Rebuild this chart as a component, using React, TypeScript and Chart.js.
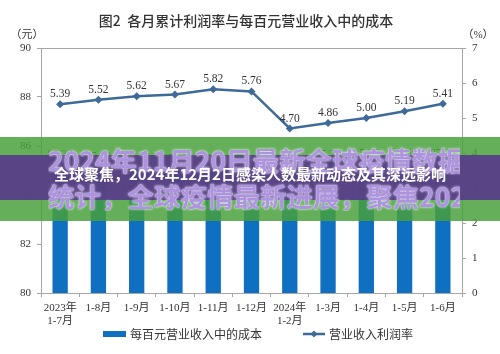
import React, { useEffect, useRef } from "react";
import { Chart, registerables } from "chart.js";

Chart.register(...registerables);

const categories: string[][] = [
  ["2023年", "1-7月"], ["1-8月"], ["1-9月"], ["1-10月"], ["1-11月"], ["1-12月"],
  ["2024年", "1-2月"], ["1-3月"], ["1-4月"], ["1-5月"], ["1-6月"],
];
const costPerHundred: number[] = [85.32, 85.23, 85.17, 85.15, 85.13, 84.76, 85.11, 85.32, 85.35, 85.40, 85.35];
const profitRate: number[] = [5.39, 5.52, 5.62, 5.67, 5.82, 5.76, 4.70, 4.86, 5.00, 5.19, 5.41];
const leftTicks = { min: 80, max: 90, step: 2 };
const rightTicks = { min: 0, max: 7, step: 1 };
const titleText = "图2  各月累计利润率与每百元营业收入中的成本";
const leftUnit = "（元）";
const rightUnit = "（%）";
const legendLabels = ["每百元营业收入中的成本", "营业收入利润率"];
const bannerBig = ["2024年11月20日最新全球疫情数据", "统计，全球疫情最新进展，聚焦2024"];
const bannerSmall = "全球聚焦，2024年12月2日感染人数最新动态及其深远影响";

const BAR = "#0f6fc0";
const LINE = "#3e6a99";
const TXT = "#333333";
const SERIF = '"Liberation Serif", "Noto Sans CJK SC", serif';
const CJK = '"Noto Sans CJK SC", sans-serif';

const decor = {
  id: "decor",
  afterDatasetsDraw(chart: any) {
    const { ctx, chartArea } = chart;
    ctx.save();
    ctx.strokeStyle = "#a6a6a6";
    ctx.lineWidth = 1;
    ctx.strokeRect(chartArea.left + 0.5, chartArea.top + 0.5, chartArea.right - chartArea.left, chartArea.bottom - chartArea.top);
    ctx.fillStyle = TXT;
    ctx.font = `500 14px ${CJK}`;
    ctx.textAlign = "center";
    ctx.textBaseline = "middle";
    ctx.fillText(titleText, 246, 21);
    ctx.font = `11px ${SERIF}`;
    ctx.fillText(leftUnit, 27, 35);
    ctx.fillText(rightUnit, 478, 35);
    const lineMeta = chart.getDatasetMeta(1);
    ctx.font = `11.5px ${SERIF}`;
    ctx.fillStyle = TXT;
    ctx.textBaseline = "alphabetic";
    lineMeta.data.forEach((pt: any, i: number) => {
      ctx.fillText(profitRate[i].toFixed(2), pt.x, pt.y - 7);
    });
    const barMeta = chart.getDatasetMeta(0);
    barMeta.data.forEach((b: any, i: number) => {
      ctx.fillText(costPerHundred[i].toFixed(2), b.x, b.y - 5);
    });
    const ly = 334;
    ctx.fillStyle = BAR;
    ctx.fillRect(103, ly - 3, 23, 6);
    ctx.fillStyle = TXT;
    ctx.font = `12px ${CJK}`;
    ctx.textAlign = "left";
    ctx.textBaseline = "middle";
    ctx.fillText(legendLabels[0], 130, ly);
    ctx.strokeStyle = LINE;
    ctx.lineWidth = 2.5;
    ctx.beginPath();
    ctx.moveTo(303, ly);
    ctx.lineTo(325, ly);
    ctx.stroke();
    ctx.fillStyle = LINE;
    ctx.beginPath();
    ctx.moveTo(314, ly - 3.5);
    ctx.lineTo(317.5, ly);
    ctx.lineTo(314, ly + 3.5);
    ctx.lineTo(310.5, ly);
    ctx.closePath();
    ctx.fill();
    ctx.fillStyle = TXT;
    ctx.fillText(legendLabels[1], 329, ly);
    ctx.restore();
  },
};

export default function App() {
  const ref = useRef<HTMLCanvasElement>(null);
  useEffect(() => {
    if (!ref.current) return;
    const chart = new Chart(ref.current, {
      type: "bar",
      data: {
        labels: categories,
        datasets: [
          {
            type: "bar",
            label: legendLabels[0],
            data: costPerHundred,
            backgroundColor: BAR,
            yAxisID: "y",
            categoryPercentage: 1,
            barPercentage: 0.4,
            order: 2,
          },
          {
            type: "line",
            label: legendLabels[1],
            data: profitRate,
            borderColor: LINE,
            backgroundColor: LINE,
            borderWidth: 2.5,
            pointStyle: "rectRot",
            pointRadius: 4,
            pointBorderWidth: 0,
            yAxisID: "y1",
            order: 1,
          } as any,
        ],
      },
      options: {
        responsive: false,
        animation: false,
        layout: { padding: { top: 48, left: 0, right: 0, bottom: 0 } },
        plugins: { legend: { display: false }, tooltip: { enabled: false }, title: { display: false } },
        scales: {
          x: {
            offset: true,
            grid: { offset: true, drawOnChartArea: false, tickLength: 4, color: "#a6a6a6" },
            border: { color: "#a6a6a6" },
            ticks: { color: TXT, font: { family: SERIF, size: 11, lineHeight: 1.15 }, padding: 5, maxRotation: 0, autoSkip: false },
            afterFit: (s: any) => { s.height = 61; },
          },
          y: {
            position: "left",
            min: leftTicks.min,
            max: leftTicks.max,
            ticks: { stepSize: leftTicks.step, color: TXT, font: { family: SERIF, size: 11 }, padding: 6 },
            grid: { drawOnChartArea: false, tickLength: 4, color: "#a6a6a6" },
            border: { color: "#a6a6a6" },
            afterFit: (s: any) => { s.width = 41; },
          },
          y1: {
            position: "right",
            min: rightTicks.min,
            max: rightTicks.max,
            ticks: { stepSize: rightTicks.step, color: TXT, font: { family: SERIF, size: 11 }, padding: 6 },
            grid: { drawOnChartArea: false, tickLength: 4, color: "#a6a6a6" },
            border: { color: "#a6a6a6" },
            afterFit: (s: any) => { s.width = 38; },
          },
        },
      },
      plugins: [decor],
    });
    return () => chart.destroy();
  }, []);

  const bigStyle: React.CSSProperties = {
    position: "absolute",
    left: 48,
    width: 412,
    overflow: "hidden",
    whiteSpace: "nowrap",
    fontFamily: CJK,
    fontWeight: 700,
    fontSize: 26.5,
    lineHeight: "30px",
    color: "rgba(165,135,222,0.9)",
    textShadow: "0 0 3px rgba(255,255,255,0.85), 0 0 1px rgba(255,255,255,0.9)",
  };

  return (
    <div style={{ position: "fixed", left: 0, top: 0, width: 500, height: 354, background: "#fff", overflow: "hidden" }}>
      <canvas ref={ref} width={500} height={354} style={{ display: "block" }} />
      <div style={{ position: "absolute", left: 0, top: 137, width: 500, height: 84, background: "rgba(72,160,58,0.84)" }} />
      <div style={{ position: "absolute", left: 0, top: 155, width: 500, height: 45, background: "rgba(88,58,140,0.9)" }} />
      <div style={{ ...bigStyle, top: 145 }}>{bannerBig[0]}</div>
      <div style={{ ...bigStyle, top: 181 }}>{bannerBig[1]}</div>
      <div
        style={{
          position: "absolute",
          left: 0,
          width: 500,
          top: 164,
          textAlign: "center",
          whiteSpace: "nowrap",
          fontFamily: CJK,
          fontWeight: 700,
          fontSize: 15,
          lineHeight: "20px",
          color: "#ffffff",
        }}
      >
        {bannerSmall}
      </div>
    </div>
  );
}
